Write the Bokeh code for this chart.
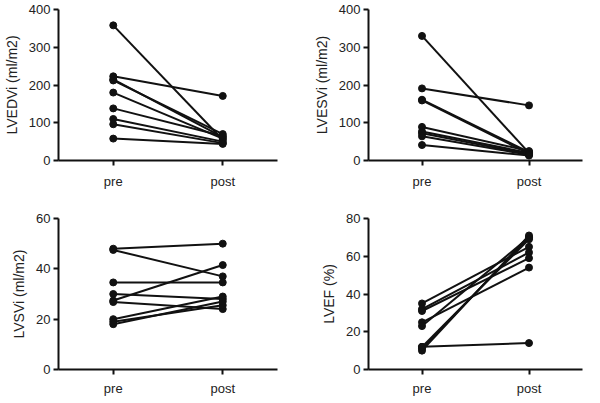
from bokeh.plotting import figure
from bokeh.layouts import gridplot
from bokeh.models import FactorRange, Range1d, FixedTicker
from bokeh.embed import file_html
from bokeh.resources import INLINE

categories = ["pre", "post"]

lvedvi_pre = [358, 223, 215, 212, 180, 138, 110, 96, 58]
lvedvi_post = [55, 171, 62, 70, 58, 65, 50, 46, 44]

lvesvi_pre = [330, 191, 161, 159, 89, 77, 72, 64, 41]
lvesvi_post = [20, 146, 22, 18, 25, 20, 17, 15, 13]

lvsvi_pre = [48, 47.5, 34.6, 30, 27.4, 26.8, 20, 19, 18]
lvsvi_post = [50, 37, 34.6, 28, 41.5, 24, 29, 25.5, 27]

lvef_pre = [35, 32, 31, 25, 23, 12, 11, 10, 12]
lvef_post = [65, 62, 59, 54, 70, 14, 70, 71, 69]

FONT = "Liberation Sans"


def panel(label, pre, post, ymax, ticks, w, h, left, right, top, bottom, xstand):
    p = figure(width=w, height=h, x_range=FactorRange(factors=categories),
               y_range=Range1d(0, ymax), output_backend="svg",
               toolbar_location=None, min_border_left=left, min_border_right=right,
               min_border_top=top, min_border_bottom=bottom)
    p.outline_line_color = None
    p.grid.visible = False
    for ax in (p.xaxis[0], p.yaxis[0]):
        ax.axis_line_width = 2
        ax.axis_line_color = "#111111"
        ax.major_tick_line_width = 2
        ax.major_tick_line_color = "#111111"
        ax.major_tick_out = 5
        ax.major_tick_in = 0
        ax.minor_tick_line_color = None
        ax.major_label_text_font = FONT
        ax.major_label_text_font_size = "13px"
        ax.major_label_text_color = "#222222"
    p.yaxis.ticker = FixedTicker(ticks=ticks)
    p.yaxis.major_label_standoff = 3
    p.xaxis.major_label_standoff = xstand
    p.yaxis.axis_label = label
    p.yaxis.axis_label_text_font = FONT
    p.yaxis.axis_label_text_font_style = "normal"
    p.yaxis.axis_label_text_font_size = "14px"
    p.yaxis.axis_label_text_color = "#222222"
    p.yaxis.axis_label_standoff = 6
    xs = [categories for _ in pre]
    ys = [[a, b] for a, b in zip(pre, post)]
    p.multi_line(xs=xs, ys=ys, line_color="#111111", line_width=2)
    p.scatter(x=[categories[0]] * len(pre), y=pre, size=7, color="#111111")
    p.scatter(x=[categories[1]] * len(post), y=post, size=7, color="#111111")
    return p


p1 = panel("LVEDVi (ml/m2)", lvedvi_pre, lvedvi_post, 400, [0, 100, 200, 300, 400],
           292, 191, 10, 15, 9, 30, 8)
p2 = panel("LVESVi (ml/m2)", lvesvi_pre, lvesvi_post, 400, [0, 100, 200, 300, 400],
           292, 191, 76, 2, 9, 30, 8)
p3 = panel("LVSVi (ml/m2)", lvsvi_pre, lvsvi_post, 60, [0, 20, 40, 60],
           292, 207, 10, 15, 27, 26, 6)
p4 = panel("LVEF (%)", lvef_pre, lvef_post, 80, [0, 20, 40, 60, 80],
           292, 207, 76, 2, 27, 26, 6)

grid = gridplot([[p1, p2], [p3, p4]], toolbar_location=None)
open("out.html", "w").write(file_html(grid, INLINE))
